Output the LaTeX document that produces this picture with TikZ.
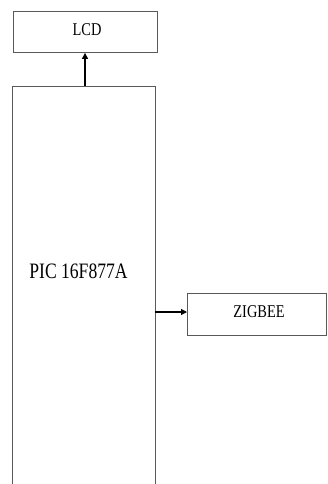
\documentclass[tikz,border=0pt]{standalone}
\usepackage{fontspec}
\setmainfont{Liberation Serif}
\usetikzlibrary{arrows.meta}
\begin{document}
\begin{tikzpicture}[x=1pt,y=-1pt,
  blk/.style={draw=black!65,line width=0.9pt,inner sep=0pt,anchor=north west},
  conn/.style={draw=black,line width=1.1pt,-{Triangle[length=6pt,width=6pt]}},
  lbl/.style={inner sep=0pt,xscale=0.8}]
\useasboundingbox (0,0) rectangle (327,484);
\clip (0,0) rectangle (327,484);
\fill[white] (0,0) rectangle (327,484);
\node[blk,minimum width=144pt,minimum height=41pt] (lcd) at (13,11) {};
\node[lbl,font=\fontsize{18}{18}\selectfont] (lcdt) at (87,30) {LCD};
\node[blk,minimum width=143pt,minimum height=420pt] (pic) at (11.5,86) {};
\node[lbl,font=\fontsize{22}{22}\selectfont] (pict) at (78.5,271) {PIC 16F877A};
\node[blk,minimum width=139pt,minimum height=42pt] (zig) at (187,293) {};
\node[lbl,font=\fontsize{18}{18}\selectfont] (zigt) at (259,312) {ZIGBEE};
\draw[conn] (pic.north -| 85,0) -- (lcd.south -| 85,0);
\draw[conn] (pic.east |- 0,312) -- (zig.west |- 0,312);
\end{tikzpicture}
\end{document}
